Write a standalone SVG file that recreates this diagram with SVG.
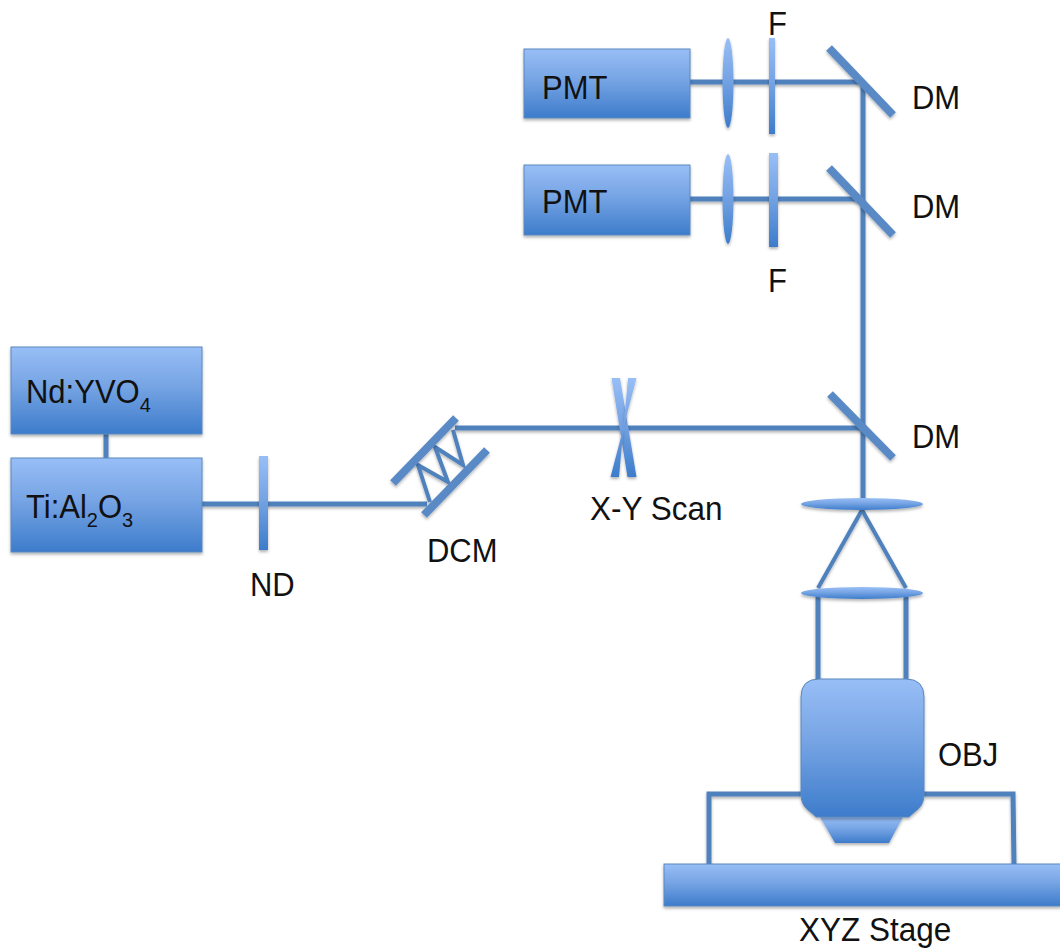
<svg xmlns="http://www.w3.org/2000/svg" width="1060" height="949" viewBox="0 0 1060 949">
<style>
.t{font-family:"Liberation Sans",Arial,sans-serif;font-size:31px;fill:#111}
.s{font-size:20px}
.f{fill:url(#g);stroke:#5b88bd;stroke-width:1;filter:url(#sh)}
.m{fill:url(#g);stroke:none;filter:url(#sh)}
.l{fill:none;stroke:#4f81bd;stroke-width:5;filter:url(#sh)}
.n{fill:none;stroke:#4f81bd;stroke-width:4;filter:url(#sh)}
.d{fill:none;stroke:#5a8ac6;stroke-width:8;filter:url(#sh)}
</style>
<defs>
<linearGradient id="g" x1="0" y1="0" x2="0" y2="1"><stop offset="0" stop-color="#98bef6"/><stop offset="0.45" stop-color="#76a4e4"/><stop offset="1" stop-color="#3d7ccb"/></linearGradient>
<filter id="sh" filterUnits="userSpaceOnUse" x="0" y="0" width="1060" height="949"><feDropShadow dx="0" dy="2" stdDeviation="1.5" flood-color="#000" flood-opacity="0.3"/></filter>
</defs>
<rect width="1060" height="949" fill="#fff"/>
<g id="connectors">
<path class="l" d="M690 82H862M690 199H860M202 504H427M455 428H863"/>
<path class="l" d="M863 84V508"/>
<path class="l" d="M106 434V458"/>
<path class="n" d="M430 502L418 465L448 482L435 447L463 465L453 430"/>
<path class="n" d="M862 510L818 588M862 510L906 588"/>
<path class="l" d="M818 597V680M906 597V680"/>
<path class="l" d="M801 794H709V865M924 794H1013L1014 865"/>
</g>
<g id="pmt1"><rect class="f" x="524" y="49" width="166" height="69"/><text class="t" transform="translate(542 99) scale(1 1.05)">PMT</text></g>
<g id="pmt2"><rect class="f" x="524" y="165" width="166" height="70"/><text class="t" transform="translate(542 213) scale(1 1.05)">PMT</text></g>
<g id="lens1"><ellipse class="m" cx="728" cy="83" rx="5.5" ry="45"/></g>
<g id="lens2"><ellipse class="m" cx="728" cy="199" rx="5.5" ry="45"/></g>
<g id="filter1"><rect class="m" x="769" y="38" width="6" height="96"/><text class="t" transform="translate(768 35) scale(1 1.05)">F</text></g>
<g id="filter2"><rect class="m" x="769" y="153" width="9" height="94"/><text class="t" transform="translate(768 292) scale(1 1.05)">F</text></g>
<g id="dm1"><path class="d" d="M829 48L893 115"/><text class="t" transform="translate(912 109) scale(1 1.05)">DM</text></g>
<g id="dm2"><path class="d" d="M829 168L893 235"/><text class="t" transform="translate(912 218) scale(1 1.05)">DM</text></g>
<g id="dm3"><path class="d" d="M830 394L893 458"/><text class="t" transform="translate(912 448) scale(1 1.05)">DM</text></g>
<g id="nd-yvo4"><rect class="f" x="11" y="347" width="191" height="87"/><text class="t" transform="translate(26 403) scale(1 1.05)">Nd:YVO<tspan class="s" dy="9">4</tspan></text></g>
<g id="ti-al2o3"><rect class="f" x="11" y="458" width="191" height="94"/><text class="t" transform="translate(26 518) scale(1 1.05)">Ti:Al<tspan class="s" dy="9">2</tspan><tspan dy="-9">O</tspan><tspan class="s" dy="9">3</tspan></text></g>
<g id="nd"><rect class="m" x="259" y="456" width="9" height="94"/><text class="t" transform="translate(250 596) scale(1 1.05)">ND</text></g>
<g id="dcm"><path class="d" d="M393 483L456 418"/><path class="d" d="M424 515L487 450"/><text class="t" transform="translate(427 562) scale(1 1.05)">DCM</text></g>
<g id="xy-scan"><polygon class="m" points="611.5,378 620,378 636.5,477 627.5,477"/><polygon class="m" points="636.5,378 628,378 619,477 610.5,477"/><text class="t" style="font-size:31.5px" transform="translate(590 520) scale(1 1.05)">X-Y Scan</text></g>
<g id="lens3"><ellipse class="m" cx="862" cy="504" rx="61" ry="6"/></g>
<g id="lens4"><ellipse class="m" cx="862" cy="593" rx="61" ry="6"/></g>
<g id="objective"><path class="m" d="M820 817L903 817L889 843L835 843Z"/><path class="f" d="M819 679H906Q924 679 924 697V794Q924 804 918 809L909 817H816L807 809Q801 804 801 794V697Q801 679 819 679Z"/><text class="t" transform="translate(938 766) scale(1 1.05)">OBJ</text></g>
<g id="stage"><rect class="f" x="664" y="864" width="397" height="42"/><text class="t" style="font-size:31.5px" transform="translate(799 941) scale(1 1.05)">XYZ Stage</text></g>
</svg>
